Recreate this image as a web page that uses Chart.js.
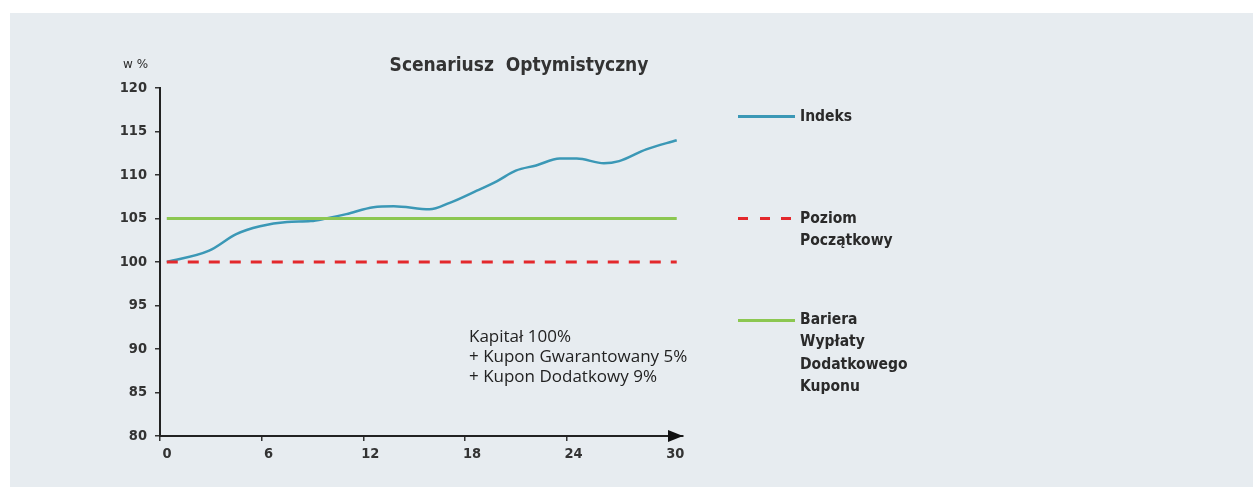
<!DOCTYPE html>
<html>
<head>
<meta charset="utf-8">
<script src="https://cdn.jsdelivr.net/npm/chart.js@4"></script>
<style>
  body { margin: 0; background: #fff; }
  #wrap { position: relative; width: 1253px; height: 487px; overflow: hidden; }
  #panel { position: absolute; left: 10px; top: 13px; right: 0; bottom: 0; background: #e7ecf0; }
  #c { position: absolute; left: 0; top: 0; }
  .txt { position: absolute; color: #2a2a2a; white-space: pre; }
  #title { left: 519px; top: 53px; transform: translateX(-50%); font: bold 19px/22px "DejaVu Sans Condensed", "DejaVu Sans", sans-serif; color: #333; }
  #unit { left: 123px; top: 57px; font: 12px/14px "DejaVu Sans", sans-serif; }
  .leg { left: 800px; font: bold 15.5px/22.3px "DejaVu Sans Condensed", "DejaVu Sans", sans-serif; }
  .sample { position: absolute; left: 738px; width: 57px; }
  #note { left: 469px; top: 326px; font: 400 17px/20px "Open Sans", sans-serif; color: #222; }
</style>
</head>
<body>
<div id="wrap">
  <div id="panel"></div>
  <canvas id="c" width="1253" height="487"></canvas>
  <div class="txt" id="title">Scenariusz  Optymistyczny</div>
  <div class="txt" id="unit">w %</div>

  <div class="sample" style="top:115px;height:2.5px;background:#3b98b6"></div>
  <div class="txt leg" style="top:105px">Indeks</div>

  <div class="sample" style="top:216.5px;height:3px;width:54px;background:repeating-linear-gradient(to right,#e3282c 0 10px,transparent 10px 21.7px)"></div>
  <div class="txt leg" style="top:206.5px">Poziom
Początkowy</div>

  <div class="sample" style="top:318.5px;height:3px;background:#8cc751"></div>
  <div class="txt leg" style="top:308px">Bariera
Wypłaty
Dodatkowego
Kuponu</div>

  <div class="txt" id="note">Kapitał 100%
+ Kupon Gwarantowany 5%
+ Kupon Dodatkowy 9%</div>
</div>

<script>
// values
const xTicks = [0, 6, 12, 18, 24, 30];
const indexX = [0.4, 2.9, 4.5, 5.9, 7.5, 8.9, 9.8, 11.0, 12.6, 13.8, 15.9, 17.1, 18.7, 19.9, 21.0, 22.2, 23.6, 24.6, 26.2, 27.1, 28.7, 30.5];
const indexY = [100.0, 101.3, 103.2, 104.1, 104.6, 104.7, 105.0, 105.5, 106.3, 106.4, 106.05, 106.8, 108.2, 109.3, 110.5, 111.1, 111.9, 111.9, 111.35, 111.6, 112.95, 114.0];
const startLevel = 100;
const barrierLevel = 105;
const lineRange = [0.4, 30.5];

const tickFont = { family: 'DejaVu Sans Condensed', size: 14.5, weight: 'bold' };

// arrow head at the end of the x axis
const axisArrow = {
  id: 'axisArrow',
  afterDraw(chart) {
    const { ctx, chartArea } = chart;
    const tipX = chartArea.right, y = chartArea.bottom;
    ctx.save();
    ctx.fillStyle = '#111';
    ctx.beginPath();
    ctx.moveTo(tipX, y);
    ctx.lineTo(tipX - 15, y - 6);
    ctx.lineTo(tipX - 15, y + 6);
    ctx.closePath();
    ctx.fill();
    ctx.restore();
  }
};

new Chart(document.getElementById('c').getContext('2d'), {
  type: 'line',
  data: {
    datasets: [
      {
        label: 'Bariera Wypłaty Dodatkowego Kuponu',
        data: lineRange.map(x => ({ x, y: barrierLevel })),
        borderColor: '#8cc751',
        borderWidth: 3,
        pointRadius: 0
      },
      {
        label: 'Poziom Początkowy',
        data: lineRange.map(x => ({ x, y: startLevel })),
        borderColor: '#e3282c',
        borderWidth: 3,
        borderDash: [11, 10],
        pointRadius: 0
      },
      {
        label: 'Indeks',
        data: indexX.map((x, i) => ({ x, y: indexY[i] })),
        borderColor: '#3b98b6',
        borderWidth: 2.5,
        pointRadius: 0,
        cubicInterpolationMode: 'monotone'
      }
    ]
  },
  options: {
    responsive: false,
    animation: false,
    layout: { padding: { top: 88, right: 570, left: 0, bottom: 0 } },
    scales: {
      x: {
        type: 'linear',
        min: 0,
        max: 30.87,
        afterBuildTicks: s => { s.ticks = xTicks.map(v => ({ value: v })); },
        afterFit: s => { s.height = 51; },
        ticks: { font: tickFont, color: '#333', labelOffset: 7, padding: 5, maxRotation: 0, autoSkip: false },
        grid: { drawOnChartArea: false, tickLength: 5, color: '#333', lineWidth: 1.5 },
        border: { color: '#222', width: 2 }
      },
      y: {
        min: 80,
        max: 120,
        afterFit: s => { s.width = 160; },
        ticks: { stepSize: 5, font: tickFont, color: '#333', padding: 8 },
        grid: { drawOnChartArea: false, tickLength: 5, color: '#333', lineWidth: 1.5 },
        border: { color: '#222', width: 2 }
      }
    },
    plugins: {
      legend: { display: false },
      tooltip: { enabled: false }
    }
  },
  plugins: [axisArrow]
});
</script>
</body>
</html>
